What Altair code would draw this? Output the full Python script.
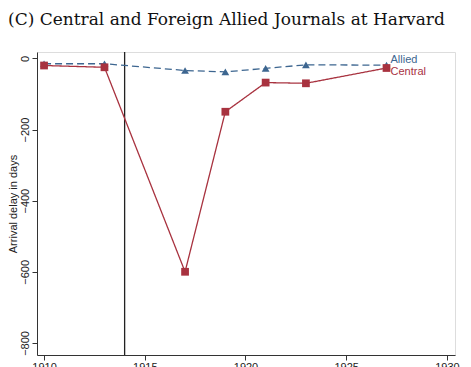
import altair as alt
import pandas as pd

years = [1910, 1913, 1917, 1919, 1921, 1923, 1927]
allied = [-15, -15, -34, -38, -28, -18, -19]
central = [-20, -25, -600, -150, -68, -70, -27]
groups = ["Allied", "Central"]
colors = ["#3d6690", "#a8323f"]
war_start = [1914]

rows = []
for y, a, c in zip(years, allied, central):
    rows.append({"year": y, "delay": a, "group": "Allied"})
    rows.append({"year": y, "delay": c, "group": "Central"})
df = pd.DataFrame(rows)

last = df[df["year"] == years[-1]]

xs = alt.Scale(domain=[1909.65, 1930.4], nice=False, zero=False)
ys = alt.Scale(domain=[-834, 18], nice=False, zero=False)
cs = alt.Scale(domain=groups, range=colors)

base = alt.Chart(df)

x_enc = alt.X("year:Q", scale=xs, axis=alt.Axis(values=[1910, 1915, 1920, 1925, 1930], format="d",
              title=None, grid=False, tickSize=5, labelFont="Liberation Sans", labelFontSize=11,
              labelColor="#222", domainColor="#333", tickColor="#333", labelPadding=1))
y_enc = alt.Y("delay:Q", scale=ys, axis=alt.Axis(values=[0, -200, -400, -600, -800], title="Arrival delay in days",
              grid=False, tickSize=5, labelAngle=-90, labelAlign="center", labelBaseline="bottom",
              labelFont="Liberation Sans", labelFontSize=11, labelColor="#222", titleFont="Liberation Sans",
              titleFontSize=11, titleFontWeight="normal", titleColor="#222", titlePadding=1,
              domainColor="#333", tickColor="#333", labelPadding=2))

lines = base.mark_line(strokeWidth=1.3).encode(
    x=x_enc, y=y_enc,
    color=alt.Color("group:N", scale=cs, legend=None),
    strokeDash=alt.StrokeDash("group:N", scale=alt.Scale(domain=groups, range=[[7, 4], [1, 0]]), legend=None),
)

pts = base.mark_point(filled=True, size=60, opacity=1).encode(
    x="year:Q", y="delay:Q",
    color=alt.Color("group:N", scale=cs, legend=None),
    shape=alt.Shape("group:N", scale=alt.Scale(domain=groups, range=["triangle-up", "square"]), legend=None),
)

vline = alt.Chart(pd.DataFrame({"year": war_start})).mark_rule(color="#222", strokeWidth=1.3).encode(x="year:Q")

lab_a = alt.Chart(last[last["group"] == "Allied"]).mark_text(align="left", dx=4, dy=-5, font="Liberation Sans",
                                                               fontSize=11).encode(
    x="year:Q", y="delay:Q", text="group:N", color=alt.Color("group:N", scale=cs, legend=None))
lab_c = alt.Chart(last[last["group"] == "Central"]).mark_text(align="left", dx=4, dy=4, font="Liberation Sans",
                                                                fontSize=11).encode(
    x="year:Q", y="delay:Q", text="group:N", color=alt.Color("group:N", scale=cs, legend=None))

chart = alt.layer(vline, lines, pts, lab_a, lab_c).properties(
    width=418, height=303,
    title=alt.TitleParams("(C)  Central and Foreign Allied Journals at Harvard", font="DejaVu Serif",
                          fontSize=17, fontWeight="normal", color="#111", anchor="start", frame="group",
                          dx=-29, offset=22),
    autosize=alt.AutoSizeParams(type="none"),
    padding={"left": 29, "top": 44, "right": 7, "bottom": 25},
).configure_view(stroke=None).configure(background="white")

chart.save("out.html", embed_options={"renderer": "svg", "actions": False})
